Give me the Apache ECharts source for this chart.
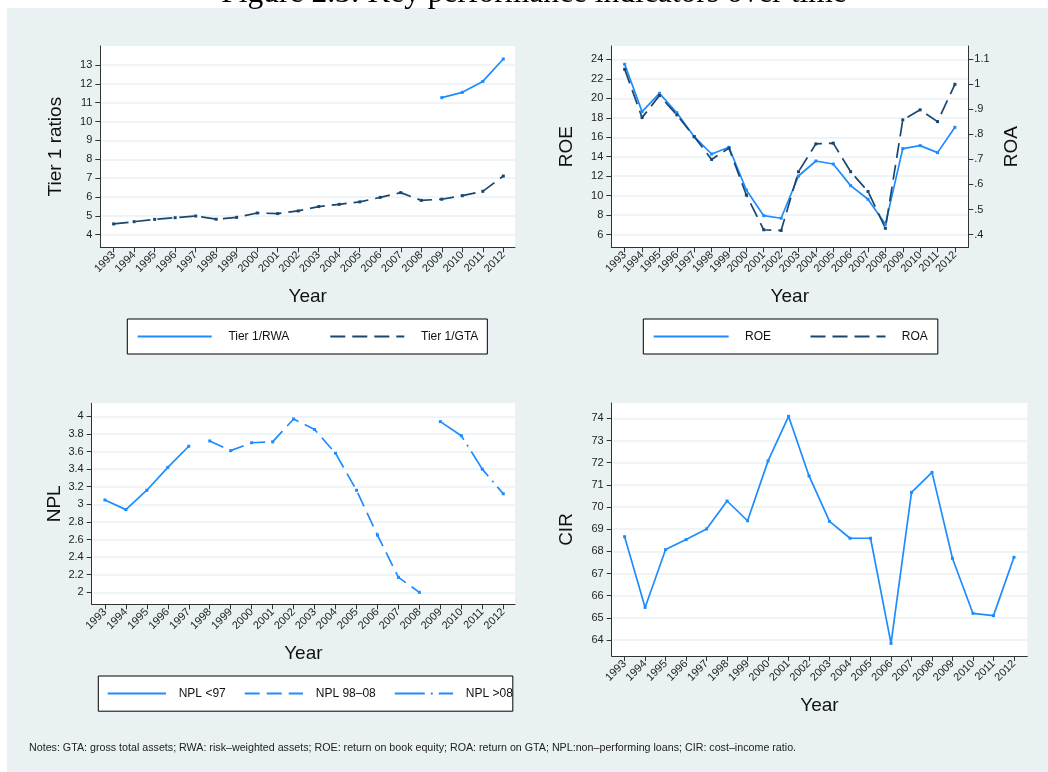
<!DOCTYPE html>
<html>
<head>
<meta charset="utf-8">
<script src="https://cdn.jsdelivr.net/npm/echarts@6/dist/echarts.min.js"></script>
<style>
  html, body { margin: 0; padding: 0; background: #fff; }
  #chart { width: 1048px; height: 772px; }
</style>
</head>
<body>
<div id="chart"></div>
<script>
// data
const years = [1993, 1994, 1995, 1996, 1997, 1998, 1999, 2000, 2001, 2002,
               2003, 2004, 2005, 2006, 2007, 2008, 2009, 2010, 2011, 2012];
const tier1Rwa = [null, null, null, null, null, null, null, null, null, null,
                  null, null, null, null, null, null, 11.27, 11.55, 12.13, 13.32];
const tier1Gta = [4.57, 4.69, 4.81, 4.90, 4.99, 4.82, 4.92, 5.15, 5.12, 5.26,
                  5.49, 5.61, 5.74, 5.98, 6.23, 5.82, 5.88, 6.07, 6.30, 7.11];
const roe = [23.49, 18.63, 20.51, 18.52, 16.06, 14.28, 14.97, 10.58, 7.95, 7.68,
             12.02, 13.56, 13.25, 11.03, 9.63, 7.06, 14.83, 15.14, 14.42, 17.02];
const roa = [1.06, 0.867, 0.955, 0.878, 0.791, 0.70, 0.745, 0.558, 0.419, 0.416,
             0.651, 0.762, 0.765, 0.651, 0.572, 0.425, 0.858, 0.898, 0.851, 1.00];
const nplPre97 = [3.05, 2.94, 3.16, 3.42, 3.66, null, null, null, null, null,
                  null, null, null, null, null, null, null, null, null, null];
const npl9808 = [null, null, null, null, null, 3.72, 3.61, 3.70, 3.71, 3.97,
                 3.85, 3.58, 3.16, 2.65, 2.17, 2.00, null, null, null, null];
const nplPost08 = [null, null, null, null, null, null, null, null, null, null,
                   null, null, null, null, null, null, 3.94, 3.78, 3.40, 3.12];
const cir = [68.66, 65.47, 68.08, 68.53, 69.01, 70.27, 69.38, 72.08, 74.09, 71.40,
             69.35, 68.59, 68.59, 63.85, 70.66, 71.56, 67.68, 65.20, 65.10, 67.73];

const tier1Ticks = [4, 5, 6, 7, 8, 9, 10, 11, 12, 13];
const roeTicks = [6, 8, 10, 12, 14, 16, 18, 20, 22, 24];
const roaTicks = [0.4, 0.5, 0.6, 0.7, 0.8, 0.9, 1.0, 1.1];
const nplTicks = [2, 2.2, 2.4, 2.6, 2.8, 3, 3.2, 3.4, 3.6, 3.8, 4];
const cirTicks = [64, 65, 66, 67, 68, 69, 70, 71, 72, 73, 74];

const font = '"Liberation Sans", Arial, sans-serif';
const blue = '#1e8cff';
const navy = '#1a476f';
const axisColor = '#333';
const bg = '#eaf1f3';

const chart = echarts.init(document.getElementById('chart'), null, { renderer: 'canvas' });

function pairs(arr) {
    return years.map((y, i) => [y, arr[i]]).filter(d => d[1] != null);
}

function xAxisFor(gridIndex, min, max) {
    return {
        type: 'value', gridIndex, min, max,
        axisLine: { show: true, onZero: false, lineStyle: { color: axisColor, width: 1 } },
        axisTick: { show: true, length: 5, customValues: years, lineStyle: { color: axisColor } },
        axisLabel: {
            customValues: years, rotate: 45, margin: 6, fontSize: 11, color: '#222',
            fontFamily: font, formatter: v => String(v)
        },
        splitLine: { show: false },
        name: 'Year', nameLocation: 'middle', nameGap: 40,
        nameTextStyle: { fontSize: 19, color: '#111', fontFamily: font }
    };
}

function yAxisFor(gridIndex, min, max, ticks, name, nameGap, position, fmt) {
    const right = position === 'right';
    return {
        type: 'value', gridIndex, min, max, position,
        axisLine: { show: true, onZero: false, lineStyle: { color: axisColor, width: 1 } },
        axisTick: { show: true, length: 5, customValues: ticks, lineStyle: { color: axisColor } },
        axisLabel: {
            customValues: ticks, margin: right ? 6 : 8, fontSize: 11, color: '#222',
            fontFamily: font, formatter: fmt || (v => String(+v.toFixed(1)))
        },
        splitLine: { show: !right, lineStyle: { color: bg, width: 1.5 } },
        name, nameLocation: 'middle', nameGap, nameRotate: 90,
        nameTextStyle: { fontSize: 19, color: '#111', fontFamily: font }
    };
}

function line(name, arr, xi, yi, color, dash) {
    return {
        type: 'line', name, xAxisIndex: xi, yAxisIndex: yi, data: pairs(arr),
        symbol: 'rect', symbolSize: 3, showSymbol: true,
        itemStyle: { color },
        lineStyle: { color, width: 1.7, type: dash || 'solid' },
        emphasis: { disabled: true }, silent: true, animation: false
    };
}

function legendFor(left, top, names, opts) {
    return {
        left, top, orient: 'horizontal', selectedMode: false,
        backgroundColor: '#fff', borderColor: '#000', borderWidth: 1, borderRadius: 0,
        padding: opts.padding, itemWidth: opts.itemWidth, itemHeight: 14, itemGap: opts.itemGap,
        itemStyle: { opacity: 0 },
        data: names.map((n, i) => ({
            name: n,
            textStyle: { width: opts.widths[i] }
        })),
        textStyle: {
            fontSize: 12, color: '#111', fontFamily: font,
            padding: [0, 0, 0, opts.textPad]
        }
    };
}

const roaFmt = v => {
    const s = String(+v.toFixed(1));
    return s.startsWith('0') ? s.slice(1) : s;
};

const option = {
    animation: false,
    backgroundColor: '#fff',
    graphic: [
        { type: 'rect', z: -10, silent: true, shape: { x: 7, y: 8, width: 1041, height: 764 }, style: { fill: bg } },
        {
            type: 'text', z: 10, silent: true, x: 534, y: 10,
            style: {
                text: 'Figure 2.3: Key performance indicators over time',
                font: '31.5px "Liberation Serif", serif', fill: '#000',
                align: 'center', verticalAlign: 'bottom'
            }
        },
        {
            type: 'text', z: 10, silent: true, x: 29, y: 748,
            style: {
                text: 'Notes: GTA: gross total assets; RWA: risk–weighted assets; ROE: return on book equity; ROA: return on GTA; NPL:non–performing loans; CIR: cost–income ratio.',
                font: '10.7px "Liberation Sans", Arial, sans-serif', fill: '#222',
                align: 'left', verticalAlign: 'middle'
            }
        }
    ],
    grid: [
        { left: 100.3, top: 46, width: 414.7, height: 201.3, show: true, backgroundColor: '#fff', borderWidth: 0 },
        { left: 611.3, top: 46, width: 357, height: 201.3, show: true, backgroundColor: '#fff', borderWidth: 0 },
        { left: 91.7, top: 403.3, width: 423.3, height: 201, show: true, backgroundColor: '#fff', borderWidth: 0 },
        { left: 611.7, top: 403, width: 415.6, height: 253, show: true, backgroundColor: '#fff', borderWidth: 0 }
    ],
    xAxis: [
        xAxisFor(0, 1992.35, 2012.57),
        xAxisFor(1, 1992.23, 2012.77),
        xAxisFor(2, 1992.37, 2012.56),
        xAxisFor(3, 1992.37, 2012.65)
    ],
    yAxis: [
        yAxisFor(0, 3.33, 14.01, tier1Ticks, 'Tier 1 ratios', 35, 'left'),
        yAxisFor(1, 4.70, 25.37, roeTicks, 'ROE', 35, 'left'),
        yAxisFor(1, 0.349, 1.153, roaTicks, 'ROA', 34, 'right', roaFmt),
        yAxisFor(2, 1.864, 4.148, nplTicks, 'NPL', 27, 'left'),
        yAxisFor(3, 63.28, 74.69, cirTicks, 'CIR', 35, 'left')
    ],
    legend: [
        legendFor(127.3, 319, ['Tier 1/RWA', 'Tier 1/GTA'],
            { padding: [11.5, 9, 11.5, 9.4], itemWidth: 74, itemGap: 40, textPad: 11.7, widths: [61, 61] }),
        legendFor(643.3, 319, ['ROE', 'ROA'],
            { padding: [11.5, 10, 11.5, 9.4], itemWidth: 75, itemGap: 38.5, textPad: 11.3, widths: [26, 26] }),
        legendFor(98.3, 676, ['NPL <97', 'NPL 98–08', 'NPL >08'],
            { padding: [11.6, 0, 11.6, 8.4], itemWidth: 58.3, itemGap: 18, textPad: 7.7, widths: [49.3, 58, 47] })
    ],
    series: [
        line('Tier 1/RWA', tier1Rwa, 0, 0, blue),
        line('Tier 1/GTA', tier1Gta, 0, 0, navy, [15, 7]),
        line('ROE', roe, 1, 1, blue),
        line('ROA', roa, 1, 2, navy, [15, 7]),
        line('NPL <97', nplPre97, 2, 3, blue),
        line('NPL 98–08', npl9808, 2, 3, blue, [15, 7]),
        line('NPL >08', nplPost08, 2, 3, blue, [30, 6, 2, 6]),
        line('CIR', cir, 3, 4, blue)
    ]
};

chart.setOption(option);
</script>
</body>
</html>
